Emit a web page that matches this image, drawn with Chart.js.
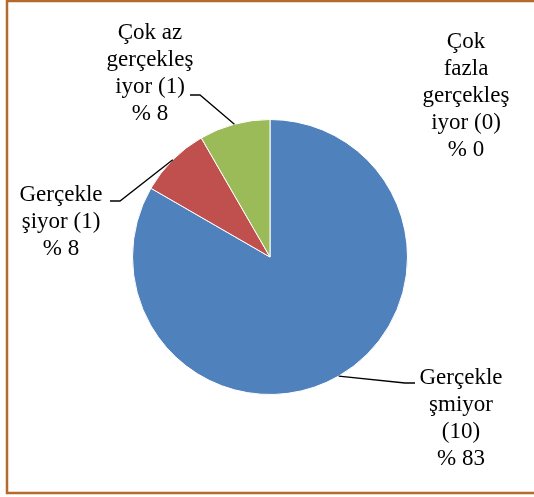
<!DOCTYPE html>
<html>
<head>
<meta charset="utf-8">
<script src="https://cdn.jsdelivr.net/npm/chart.js@4/dist/chart.umd.min.js"></script>
<style>
  html, body { margin: 0; padding: 0; background: #ffffff; }
  #c { display: block; }
</style>
</head>
<body>
<canvas id="c" width="534" height="497"></canvas>
<script>
// Survey answers and how many respondents gave each one
const categories = ['Gerçekleşmiyor', 'Gerçekleşiyor', 'Çok az gerçekleşiyor', 'Çok fazla gerçekleşiyor'];
const counts = [10, 1, 1, 0];
// Category names as they wrap inside each data label
const nameLines = [
  ['Gerçekle', 'şmiyor'],
  ['Gerçekle', 'şiyor'],
  ['Çok az', 'gerçekleş', 'iyor'],
  ['Çok', 'fazla', 'gerçekleş', 'iyor']
];
const sliceColors = ['#4F81BD', '#C0504D', '#9BBB59', '#8064A2'];

const total = counts.reduce((a, b) => a + b, 0);
const FONT = '23px "Liberation Serif", "Times New Roman", serif';
const LINE_H = 27;
const MAX_W = 95;

// Where each label block sits (centre x, first baseline) and the leader elbow
const labelPlacement = [
  { x: 461, y: 384, elbow: [405, 383], end: [415, 383] },
  { x: 61,  y: 201, elbow: [120, 201], end: [110, 201] },
  { x: 150, y: 39,  elbow: [200, 95],  end: [190, 95] },
  { x: 466, y: 48,  elbow: null,       end: null }
];

function buildLines(ctx, i) {
  const lines = nameLines[i].slice();
  const countText = '(' + counts[i] + ')';
  const last = lines[lines.length - 1] + ' ' + countText;
  if (ctx.measureText(last).width <= MAX_W) {
    lines[lines.length - 1] = last;
  } else {
    lines.push(countText);
  }
  lines.push('% ' + Math.round(counts[i] / total * 100));
  return lines;
}

const frameAndLabels = {
  id: 'frameAndLabels',
  afterDraw(chart) {
    const ctx = chart.ctx;
    ctx.save();
    // outer frame
    ctx.strokeStyle = '#B5692B';
    ctx.lineWidth = 2.5;
    ctx.beginPath();
    ctx.moveTo(545, 1);
    ctx.lineTo(7, 1);
    ctx.lineTo(7, 493);
    ctx.lineTo(545, 493);
    ctx.stroke();

    const arcs = chart.getDatasetMeta(0).data;
    ctx.font = FONT;
    ctx.fillStyle = '#000000';
    ctx.textAlign = 'center';
    ctx.textBaseline = 'alphabetic';
    arcs.forEach((arc, i) => {
      const p = labelPlacement[i];
      const lines = buildLines(ctx, i);
      lines.forEach((t, k) => ctx.fillText(t, p.x, p.y + k * LINE_H));
      if (p.elbow && counts[i] > 0) {
        const props = arc.getProps(['x', 'y', 'startAngle', 'endAngle', 'outerRadius']);
        const mid = (props.startAngle + props.endAngle) / 2;
        const ex = props.x + Math.cos(mid) * props.outerRadius;
        const ey = props.y + Math.sin(mid) * props.outerRadius;
        ctx.strokeStyle = '#000000';
        ctx.lineWidth = 1.3;
        ctx.beginPath();
        ctx.moveTo(ex, ey);
        ctx.lineTo(p.elbow[0], p.elbow[1]);
        ctx.lineTo(p.end[0], p.end[1]);
        ctx.stroke();
      }
    });
    ctx.restore();
  }
};

new Chart(document.getElementById('c'), {
  type: 'pie',
  data: {
    labels: categories,
    datasets: [{
      data: counts,
      backgroundColor: sliceColors,
      borderColor: '#ffffff',
      borderWidth: 1
    }]
  },
  options: {
    responsive: false,
    animation: false,
    layout: { padding: { left: 132, right: 126, top: 119, bottom: 102 } },
    plugins: {
      legend: { display: false },
      tooltip: { enabled: false }
    }
  },
  plugins: [frameAndLabels]
});
</script>
</body>
</html>
